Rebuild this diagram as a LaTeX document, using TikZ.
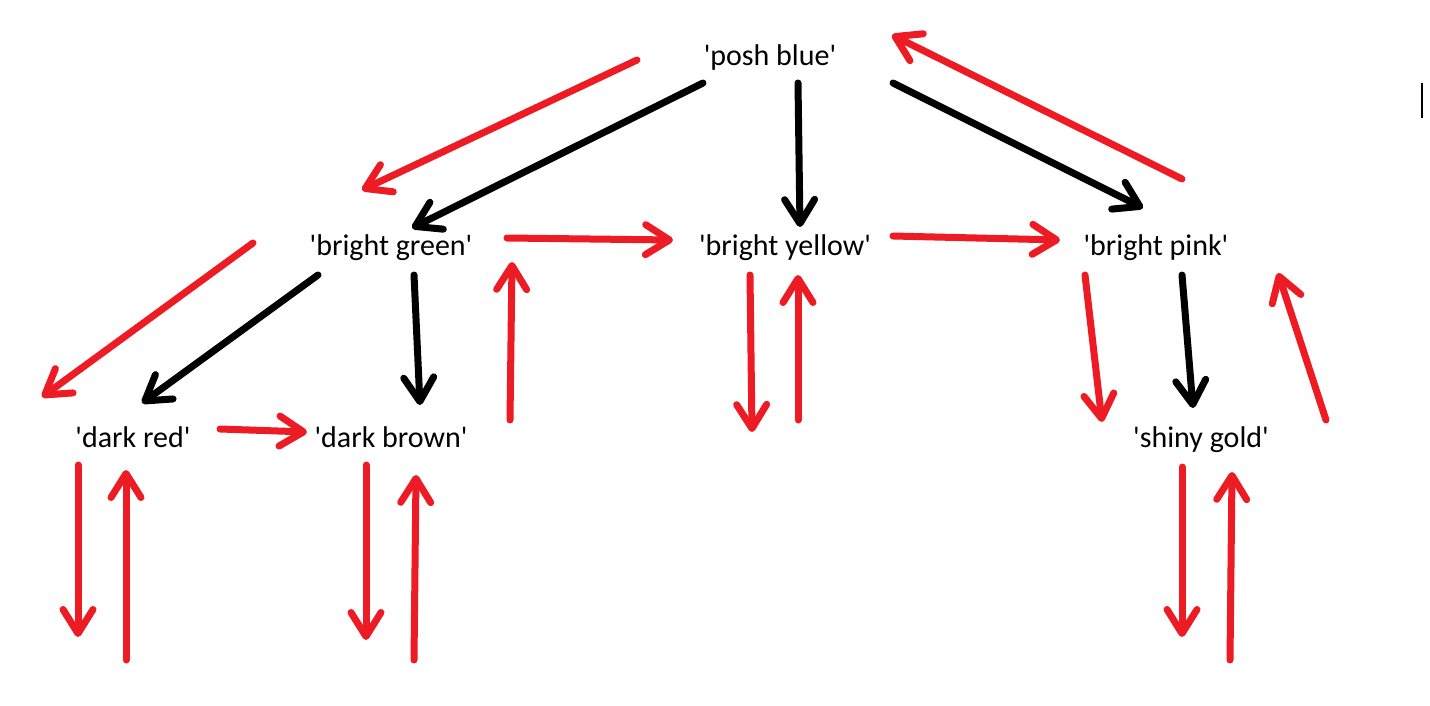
\documentclass[tikz,border=0pt]{standalone}
\usepackage{fontspec}
\setmainfont{Carlito}[Ligatures=TeXOff]
\usetikzlibrary{arrows.meta,calc}
\definecolor{paintred}{RGB}{237,28,36}

\begin{document}
\begin{tikzpicture}[x=1pt,y=-1pt,>={Straight Barb[round,length=24pt,width=30pt]},
                    line width=7pt,line cap=round,
                    bag/.style={font=\fontsize{30}{36}\selectfont,inner sep=0pt,
                                text height=28pt,text depth=7pt},
                    contains/.style={->,draw=black},
                    within/.style={->,draw=paintred}]
  \useasboundingbox (0,0) rectangle (1430,706);

  \node[bag] (pb) at (770,55)  {'posh blue'};
  \node[bag] (bg) at (391,245) {'bright green'};
  \node[bag] (by) at (785,245) {'bright yellow'};
  \node[bag] (bp) at (1156,245) {'bright pink'};
  \node[bag] (dr) at (133,437) {'dark red'};
  \node[bag] (db) at (391,437) {'dark brown'};
  \node[bag] (sg) at (1201,437) {'shiny gold'};

  % black: what each bag holds
  \draw[contains] ($(pb)+(-67,28)$) -- ($(bg)+(21,-17)$);
  \draw[contains] ($(pb)+(28,28)$)  -- ($(by)+(15,-18)$);
  \draw[contains] ($(pb)+(123,28)$) -- ($(bp)+(-13,-37)$);
  \draw[contains] ($(bg)+(-73,30)$) -- ($(dr)+(9,-34)$);
  \draw[contains] ($(bg)+(23,30)$)  -- ($(db)+(29,-32)$);
  \draw[contains] ($(bp)+(26,30)$)  -- ($(sg)+(-8,-29)$);

  % red: the search path
  \draw[within] ($(pb)+(-133,5)$)  -- ($(bg)+(-29,-55)$);
  \draw[within] ($(bg)+(-138,-2)$) -- ($(dr)+(-91,-40)$);
  \draw[within] ($(dr)+(87,-8)$)   -- ($(db)+(-84,-5)$);
  \draw[within] ($(dr)+(-55,28)$)  -- ($(dr)+(-55,200)$);
  \draw[within] ($(dr)+(-7,223)$)  -- ($(dr)+(-7,33)$);
  \draw[within] ($(db)+(-25,28)$)  -- ($(db)+(-25,203)$);
  \draw[within] ($(db)+(23,223)$)  -- ($(db)+(25,38)$);
  \draw[within] ($(db)+(119,-17)$) -- ($(bg)+(121,17)$);
  \draw[within] ($(bg)+(116,-7)$)  -- ($(by)+(-112,-5)$);
  \draw[within] ($(by)+(-35,30)$)  -- ($(by)+(-33,187)$);
  \draw[within] ($(by)+(13,175)$)  -- ($(by)+(13,30)$);
  \draw[within] ($(by)+(108,-9)$)  -- ($(bp)+(-96,-5)$);
  \draw[within] ($(bp)+(-71,30)$)  -- ($(sg)+(-99,-15)$);
  \draw[within] ($(sg)+(125,-17)$) -- ($(bp)+(122,28)$);
  \draw[within] ($(bp)+(26,-66)$)  -- ($(pb)+(122,-20)$);
  \draw[within] ($(sg)+(-19,30)$)  -- ($(sg)+(-19,200)$);
  \draw[within] ($(sg)+(29,223)$)  -- ($(sg)+(31,35)$);

  % text cursor
  \draw[line width=2pt,line cap=butt] (1422,83) -- (1422,118);
\end{tikzpicture}
\end{document}
